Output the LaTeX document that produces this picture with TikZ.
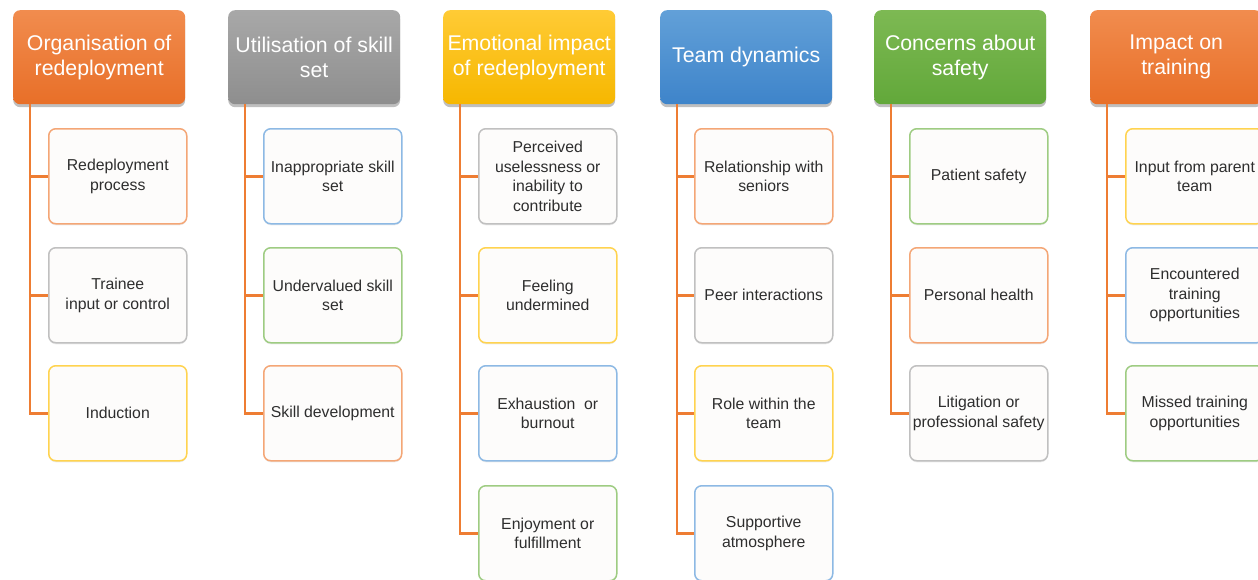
\documentclass[tikz,border=0pt]{standalone}
\usepackage{fontspec}
\setmainfont{Liberation Sans}
\usetikzlibrary{shadows}
\definecolor{orTop}{HTML}{F18C4E}
\definecolor{orBot}{HTML}{E86F28}
\definecolor{grTop}{HTML}{A8A8A8}
\definecolor{grBot}{HTML}{8E8E8E}
\definecolor{yeTop}{HTML}{FFCB35}
\definecolor{yeBot}{HTML}{F6B700}
\definecolor{blTop}{HTML}{62A0D8}
\definecolor{blBot}{HTML}{3E84CA}
\definecolor{gnTop}{HTML}{7DB953}
\definecolor{gnBot}{HTML}{62A83A}
\definecolor{conncol}{HTML}{EE7D33}
\definecolor{bOr}{HTML}{F4A676}
\definecolor{bGr}{HTML}{C0C0C0}
\definecolor{bYe}{HTML}{FFD34F}
\definecolor{bBl}{HTML}{8DB9E4}
\definecolor{bGn}{HTML}{9ECC82}
\definecolor{txt}{HTML}{2E2E2E}
\definecolor{boxfill}{HTML}{FDFCFB}
\begin{document}
\begin{tikzpicture}[x=1pt,y=-1pt,
  head/.style n args={2}{rounded corners=7pt, minimum width=172pt, minimum height=94pt,
    anchor=north west, inner sep=0pt, align=center, text=white,
    top color=#1, bottom color=#2,
    font=\fontsize{21.3}{25}\selectfont,
    drop shadow={shadow xshift=0pt, shadow yshift=-3pt, opacity=0.25, fill=black}},
  leaf/.style={rounded corners=7pt, minimum width=138pt, minimum height=95pt,
    anchor=north west, inner sep=0pt, draw=#1, line width=1.5pt, fill=boxfill,
    align=center, text=txt, font=\fontsize{15.8}{19.5}\selectfont,
    drop shadow={shadow xshift=0pt, shadow yshift=-1.5pt, opacity=0.08, fill=black}},
  conn/.style={draw=conncol, line width=2.9pt}]
\useasboundingbox (0,0) rectangle (1258,579);
\fill[white] (0,0) rectangle (1258,579);

% headers
\node[head={orTop}{orBot}] (h1) at (13,10) {Organisation of\\redeployment};
\node[head={grTop}{grBot}] (h2) at (228,10) {Utilisation of skill\\set};
\node[head={yeTop}{yeBot}] (h3) at (443,10) {Emotional impact\\of redeployment};
\node[head={blTop}{blBot}] (h4) at (660,10) {Team dynamics};
\node[head={gnTop}{gnBot}] (h5) at (874,10) {Concerns about\\safety};
\node[head={orTop}{orBot}] (h6) at (1090,10) {Impact on\\training};

% column 1
\node[leaf=bOr] (c11) at (48,128) {Redeployment\\process};
\node[leaf=bGr] (c12) at (48,247) {Trainee\\input or control};
\node[leaf=bYe] (c13) at (48,365) {Induction};
% column 2
\node[leaf=bBl] (c21) at (263,128) {Inappropriate skill\\set};
\node[leaf=bGn] (c22) at (263,247) {Undervalued skill\\set};
\node[leaf=bOr] (c23) at (263,365) {Skill development};
% column 3
\node[leaf=bGr] (c31) at (478,128) {Perceived\\uselessness or\\inability to\\contribute};
\node[leaf=bYe] (c32) at (478,247) {Feeling\\undermined};
\node[leaf=bBl] (c33) at (478,365) {Exhaustion\ \ or\\burnout};
\node[leaf=bGn] (c34) at (478,485) {Enjoyment or\\fulfillment};
% column 4
\node[leaf=bOr] (c41) at (694,128) {Relationship with\\seniors};
\node[leaf=bGr] (c42) at (694,247) {Peer interactions};
\node[leaf=bYe] (c43) at (694,365) {Role within the\\team};
\node[leaf=bBl] (c44) at (694,485) {Supportive\\atmosphere};
% column 5
\node[leaf=bGn] (c51) at (909,128) {Patient safety};
\node[leaf=bOr] (c52) at (909,247) {Personal health};
\node[leaf=bGr] (c53) at (909,365) {Litigation or\\professional safety};
% column 6
\node[leaf=bYe] (c61) at (1125,128) {Input from parent\\team};
\node[leaf=bBl] (c62) at (1125,247) {Encountered\\training\\opportunities};
\node[leaf=bGn] (c63) at (1125,365) {Missed training\\opportunities};

% connectors
\foreach \h/\kids in {1/{1,2,3},2/{1,2,3},3/{1,2,3,4},4/{1,2,3,4},5/{1,2,3},6/{1,2,3}}{
  \coordinate (b\h) at ([xshift=17pt]h\h.south west);
  \foreach \k in \kids {
    \draw[conn] (b\h) |- (c\h\k.west);
  }
}
\end{tikzpicture}
\end{document}
